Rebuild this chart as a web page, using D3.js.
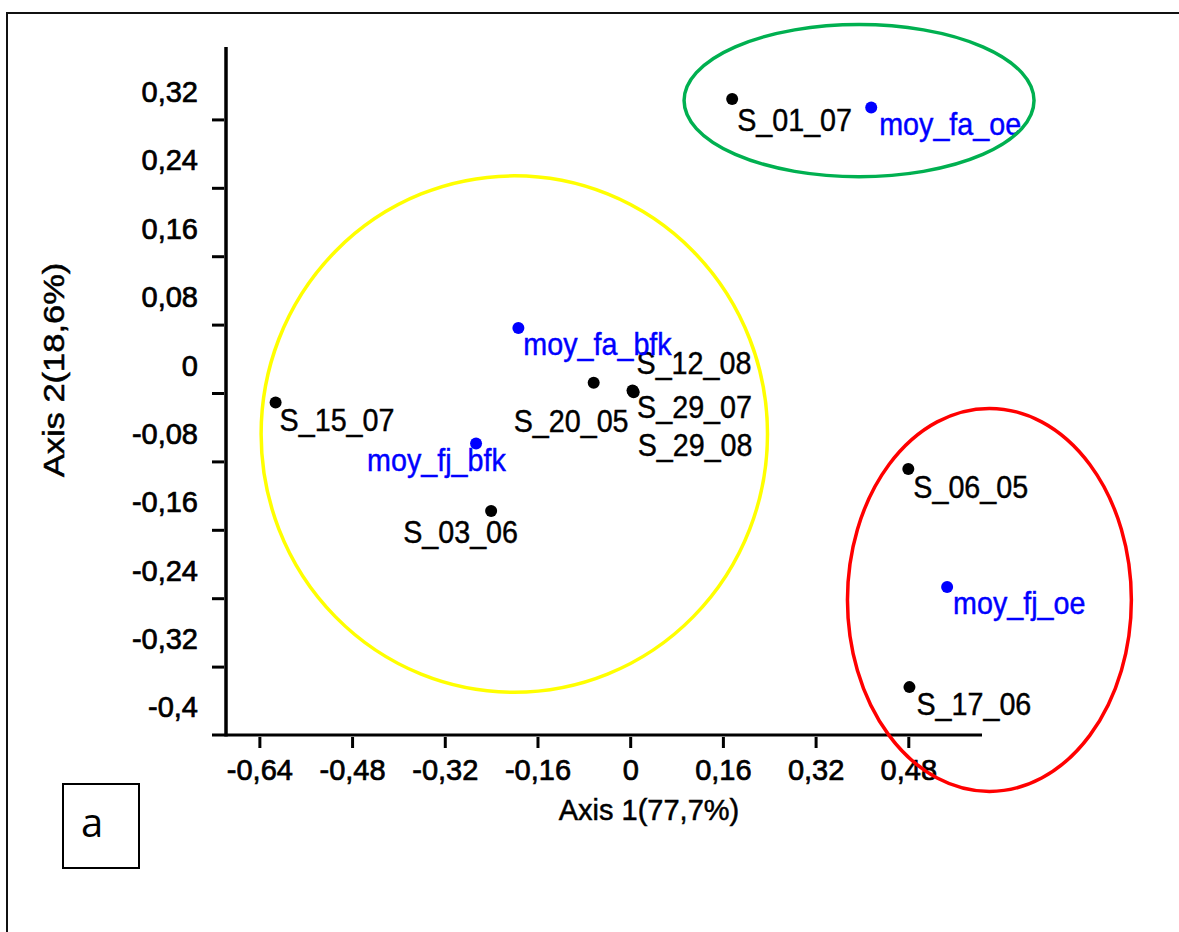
<!DOCTYPE html>
<html>
<head>
<meta charset="utf-8">
<script src="https://cdn.jsdelivr.net/npm/d3@7"></script>
<style>
  html, body { margin: 0; padding: 0; background: #fff; }
  svg { display: block; font-family: "Liberation Sans", Arial, sans-serif; }
</style>
</head>
<body>
<svg id="chart" width="1179" height="932"></svg>
<script>
// Sample scores on the first two axes
const sampleNames = ["S_01_07", "S_15_07", "S_03_06", "S_20_05", "S_12_08", "S_29_07", "S_29_08", "S_06_05", "S_17_06"];
const sampleAxis1 = [0.176, -0.612, -0.240, -0.063, 0.004, 0.005, 0.006, 0.480, 0.482];
const sampleAxis2 = [0.344, -0.011, -0.138, 0.012, 0.003, 0.002, 0.001, -0.089, -0.344];

// Group means
const meanNames = ["moy_fa_oe", "moy_fa_bfk", "moy_fj_bfk", "moy_fj_oe"];
const meanAxis1 = [0.416, -0.193, -0.266, 0.547];
const meanAxis2 = [0.334, 0.076, -0.059, -0.227];

// Group outlines (centre and radii in axis units)
const groupColors = ["#00b050", "#ffff00", "#ff0000"];
const groupCx = [0.395, -0.200, 0.620];
const groupCy = [0.342, -0.048, -0.242];
const groupRx = [0.302, 0.437, 0.245];
const groupRy = [0.089, 0.302, 0.224];

// Axis ticks and titles
const xTicks = [-0.64, -0.48, -0.32, -0.16, 0, 0.16, 0.32, 0.48];
const yTicks = [0.32, 0.24, 0.16, 0.08, 0, -0.08, -0.16, -0.24, -0.32, -0.4];
const xTitle = "Axis 1(77,7%)";
const yTitle = "Axis 2(18,6%)";
const panelLetter = "a";

// Label placement relative to each point (pixels: text start, baseline)
const labelNudge = {
  "S_01_07": [5, 32], "S_15_07": [4, 29], "S_03_06": [-88, 32], "S_20_05": [-80, 49],
  "S_12_08": [4, -16], "S_29_07": [4, 27], "S_29_08": [4, 64], "S_06_05": [5, 29],
  "S_17_06": [7, 28], "moy_fa_oe": [8, 28], "moy_fa_bfk": [5, 27], "moy_fj_bfk": [-109, 28],
  "moy_fj_oe": [6, 27]
};

const svg = d3.select("#chart");
const fmt = d => d === 0 ? "0" : String(d).replace(".", ",");
const LABEL_SIZE = 28.7, LABEL_STRETCH = 1.1;

const x = d3.scaleLinear().domain([-0.6976, 0.6072]).range([226, 982]);
const y = d3.scaleLinear().domain([-0.4, 0.4047]).range([735, 47]);

// Slightly heavier strokes on glyphs for the printed look
function ink(sel, color, w) {
  return sel.attr("fill", color).attr("stroke", color).attr("stroke-width", w);
}

// Page frame
svg.append("path")
  .attr("d", "M7,932 L7,13 L1179,13")
  .attr("fill", "none").attr("stroke", "#111").attr("stroke-width", 2);

// X axis: line, ticks, labels
svg.append("line")
  .attr("x1", x.range()[0] - 14).attr("x2", x.range()[1])
  .attr("y1", y(-0.4)).attr("y2", y(-0.4))
  .attr("stroke", "#000").attr("stroke-width", 3);

const gx = svg.append("g")
  .attr("transform", `translate(0,${y(-0.4) + 2})`)
  .call(d3.axisBottom(x).tickValues(xTicks).tickFormat(fmt).tickSize(11).tickSizeOuter(0));
gx.select(".domain").remove();
gx.selectAll(".tick line").attr("stroke", "#000").attr("stroke-width", 3);
ink(gx.selectAll(".tick text")
  .attr("y", 43).attr("dy", null)
  .attr("font-size", 29).attr("font-family", "Liberation Sans, Arial, sans-serif"), "#000", 0.7);

// Y axis: line, ticks, labels above their tick
svg.append("line")
  .attr("x1", x.range()[0]).attr("x2", x.range()[0])
  .attr("y1", y.range()[1]).attr("y2", y(-0.4) + 1.5)
  .attr("stroke", "#000").attr("stroke-width", 3.5);

const gy = svg.append("g")
  .attr("transform", `translate(${x.range()[0] - 2},0)`)
  .call(d3.axisLeft(y).tickValues(yTicks.filter(v => v !== -0.4)).tickFormat(fmt).tickSize(12).tickSizeOuter(0));
gy.select(".domain").remove();
gy.selectAll(".tick line").attr("stroke", "#000").attr("stroke-width", 3);
ink(gy.selectAll(".tick text")
  .attr("x", -26).attr("y", -18).attr("dy", null)
  .attr("font-size", 29).attr("font-family", "Liberation Sans, Arial, sans-serif"), "#000", 0.7);
// The -0.4 label sits on the extended horizontal axis
ink(svg.append("text")
  .attr("x", x.range()[0] - 28).attr("y", y(-0.4) - 18)
  .attr("text-anchor", "end").attr("font-size", 29)
  .text(fmt(yTicks[yTicks.length - 1])), "#000", 0.7);

// Axis titles
ink(svg.append("text")
  .attr("x", 649).attr("y", 820)
  .attr("text-anchor", "middle").attr("font-size", 29)
  .text(xTitle), "#000", 0.5);
ink(svg.append("text")
  .attr("transform", "translate(64,370) rotate(-90) scale(1.19,1)")
  .attr("text-anchor", "middle").attr("font-size", 29)
  .text(yTitle), "#000", 0.5);

// Points and labels
function drawPoints(names, ax1, ax2, color) {
  const rows = names.map((n, i) => ({ name: n, a1: ax1[i], a2: ax2[i] }));
  svg.append("g").selectAll("circle").data(rows).join("circle")
    .attr("cx", d => x(d.a1)).attr("cy", d => y(d.a2)).attr("r", 6)
    .attr("fill", color);
  ink(svg.append("g").selectAll("text").data(rows).join("text")
    .attr("transform", d => {
      const [dx, dy] = labelNudge[d.name];
      return `translate(${x(d.a1) + dx},${y(d.a2) + dy}) scale(1,${LABEL_STRETCH})`;
    })
    .attr("font-size", LABEL_SIZE)
    .text(d => d.name), color, 0.4);
}
drawPoints(sampleNames, sampleAxis1, sampleAxis2, "#000");
drawPoints(meanNames, meanAxis1, meanAxis2, "#0000ff");

// Group outlines
const groups = groupColors.map((c, i) => ({ c, cx: groupCx[i], cy: groupCy[i], rx: groupRx[i], ry: groupRy[i] }));
svg.append("g").selectAll("ellipse").data(groups).join("ellipse")
  .attr("cx", d => x(d.cx)).attr("cy", d => y(d.cy))
  .attr("rx", d => x(d.cx + d.rx) - x(d.cx)).attr("ry", d => y(d.cy - d.ry) - y(d.cy))
  .attr("fill", "none").attr("stroke", d => d.c).attr("stroke-width", 3.5);

// Panel letter box
svg.append("rect")
  .attr("x", 63).attr("y", 784).attr("width", 76).attr("height", 84)
  .attr("fill", "none").attr("stroke", "#000").attr("stroke-width", 2);
svg.append("text")
  .attr("x", 92).attr("y", 837)
  .attr("text-anchor", "middle").attr("font-size", 40).attr("font-family", "Open Sans, sans-serif").attr("fill", "#000")
  .text(panelLetter);
</script>
</body>
</html>
